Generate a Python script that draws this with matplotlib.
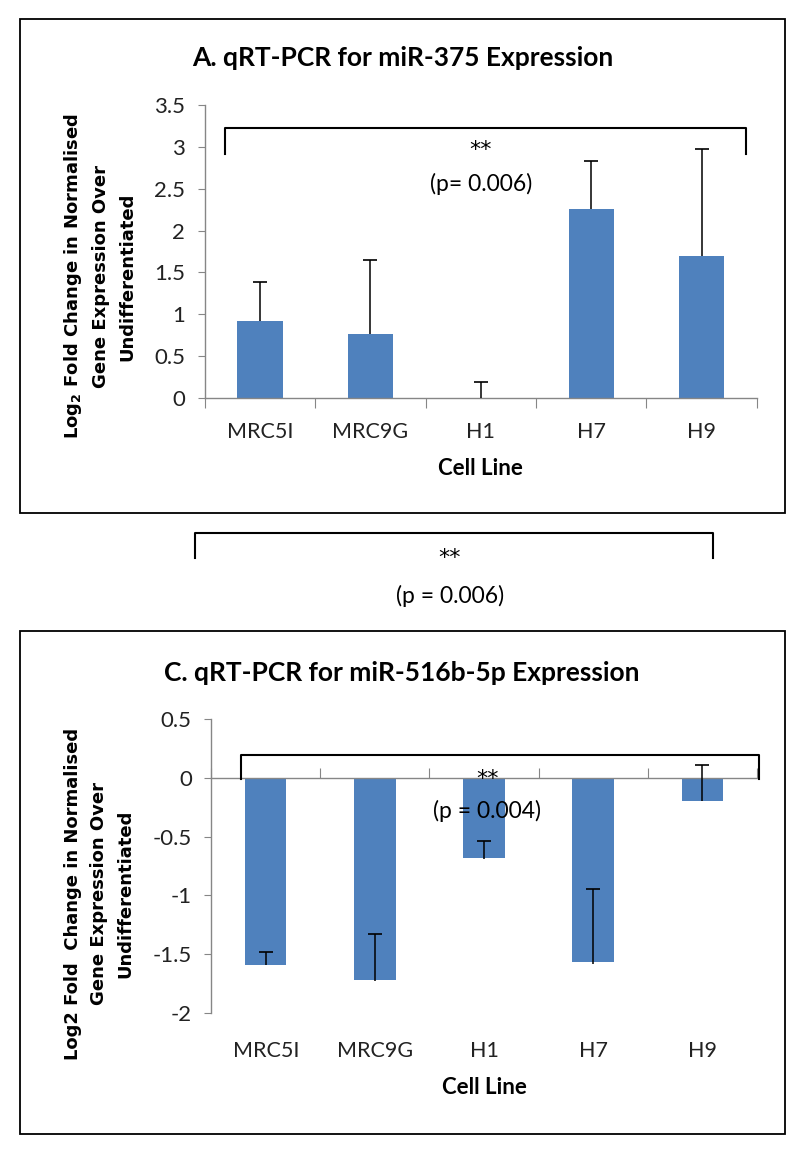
import numpy as np
import matplotlib.pyplot as plt
import matplotlib.transforms as mtransforms
from matplotlib.patches import Rectangle
from matplotlib.lines import Line2D

# Data
cell_lines = ['MRC5I', 'MRC9G', 'H1', 'H7', 'H9']

mir375_mean = [0.92, 0.77, 0.0, 2.26, 1.70]
mir375_err_minus = [0.0, 0.0, 0.0, 0.0, 0.0]
mir375_err_plus = [0.47, 0.88, 0.19, 0.57, 1.27]

mir516_mean = [-1.59, -1.72, -0.68, -1.57, -0.20]
mir516_err_minus = [0.0, 0.01, 0.01, 0.01, 0.0]
mir516_err_plus = [0.11, 0.39, 0.14, 0.62, 0.31]

top_ticks = [0, 0.5, 1, 1.5, 2, 2.5, 3, 3.5]
top_ticklabels = ['0', '0.5', '1', '1.5', '2', '2.5', '3', '3.5']
bot_ticks = [-2, -1.5, -1, -0.5, 0, 0.5]
bot_ticklabels = ['-2', '-1.5', '-1', '-0.5', '0', '0.5']

BAR = '#4F81BD'
AXC = '#868686'
FONT = 'Lato'

fig = plt.figure(figsize=(8, 11.52), dpi=100)

# panel frames
fig.add_artist(Rectangle((0.0244, 0.5547), 0.9566, 0.4288, transform=fig.transFigure,
                         fill=False, edgecolor='black', linewidth=1.3))
fig.add_artist(Rectangle((0.0244, 0.0156), 0.9566, 0.4367, transform=fig.transFigure,
                         fill=False, edgecolor='black', linewidth=1.3))


def setup_axes(ax, ticks, ticklabels, ylim):
    x = np.arange(len(cell_lines))
    ax.set_xlim(-0.5, len(cell_lines) - 0.5)
    ax.set_ylim(*ylim)
    for s in ['top', 'right']:
        ax.spines[s].set_visible(False)
    for s in ['left', 'bottom']:
        ax.spines[s].set_color(AXC)
        ax.spines[s].set_linewidth(1.0)
    ax.set_yticks(ticks)
    ax.set_yticklabels(ticklabels, fontsize=16, family=FONT, color='#222222')
    ax.tick_params(axis='y', direction='out', length=5, color=AXC, pad=9)
    ax.set_xticks(np.arange(len(cell_lines) + 1) - 0.5)
    ax.set_xticklabels([])
    return x


def draw_errors(ax, x, mean, minus, plus):
    # whiskers, with a cap only on the upper end
    ax.errorbar(x, mean, yerr=[minus, plus], fmt='none', ecolor='black',
                elinewidth=1.1, capsize=0, zorder=3)
    tops = np.array(mean) + np.array(plus)
    ax.plot(x, tops, ls='none', marker='_', ms=10, mew=1.2, color='black', zorder=3)


# ---------- A. miR-375 ----------
ax1 = fig.add_axes([0.256, 0.6545, 0.690, 0.2544])
x = setup_axes(ax1, top_ticks, top_ticklabels, (0, 3.5))
ax1.tick_params(axis='x', direction='out', length=7, color=AXC)
ax1.bar(x, mir375_mean, width=0.41, color=BAR, zorder=2)
draw_errors(ax1, x, mir375_mean, mir375_err_minus, mir375_err_plus)
ax1.plot([-0.32, -0.32, 4.40, 4.40], [2.92, 3.23, 3.23, 2.92], color='black', lw=1.5,
         clip_on=False, solid_joinstyle='round')
ax1.text(2.0, 2.96, '**', ha='center', va='center', fontsize=16, family='DejaVu Sans')
ax1.text(2.0, 2.56, '(p= 0.006)', ha='center', va='center', fontsize=16.5, family=FONT)
tr1 = mtransforms.blended_transform_factory(ax1.transData, fig.transFigure)
for xi, lab in zip(x, cell_lines):
    ax1.text(xi, 0.625, lab, transform=tr1, ha='center', va='center', fontsize=15.5,
             family=FONT, color='#222222')
ax1.text(2.0, 0.5937, 'Cell Line', transform=tr1, ha='center', va='center',
         fontsize=16, family=FONT, fontweight='bold')
fig.text(0.503, 0.9497, 'A. qRT-PCR for miR-375 Expression', ha='center', va='center',
         fontsize=19, family=FONT, fontweight='bold')
fig.text(0.124, 0.760, 'Log$_\\mathbf{2}$ Fold Change in Normalised\nGene Expression Over\nUndifferentiated',
         rotation=90, ha='center', va='center', fontsize=13, fontweight='bold',
         family='DejaVu Sans', linespacing=1.55, multialignment='center')

# middle bracket between the panels
fig.add_artist(Line2D([0.244, 0.244, 0.891, 0.891], [0.5156, 0.5373, 0.5373, 0.5156],
                      transform=fig.transFigure, color='black', lw=1.5))
fig.text(0.5625, 0.5155, '**', ha='center', va='center', fontsize=16, family='DejaVu Sans')
fig.text(0.5625, 0.4826, '(p = 0.006)', ha='center', va='center', fontsize=16.5, family=FONT)

# ---------- C. miR-516b-5p ----------
ax2 = fig.add_axes([0.264, 0.1207, 0.682, 0.2552])
x = setup_axes(ax2, bot_ticks, bot_ticklabels, (-2, 0.5))
ax2.spines['bottom'].set_position(('data', 0))
ax2.tick_params(axis='x', direction='in', length=7, color=AXC)
ax2.bar(x, mir516_mean, width=0.38, color=BAR, zorder=2)
draw_errors(ax2, x, mir516_mean, mir516_err_minus, mir516_err_plus)
ax2.plot([-0.225, -0.225, 4.52, 4.52], [-0.01, 0.195, 0.195, -0.01], color='black', lw=1.5,
         clip_on=False, solid_joinstyle='round', zorder=4)
ax2.text(2.03, -0.01, '**', ha='center', va='center', fontsize=16, family='DejaVu Sans', zorder=5)
ax2.text(2.03, -0.28, '(p = 0.004)', ha='center', va='center', fontsize=16.5, family=FONT, zorder=5)
tr2 = mtransforms.blended_transform_factory(ax2.transData, fig.transFigure)
for xi, lab in zip(x, cell_lines):
    ax2.text(xi, 0.0877, lab, transform=tr2, ha='center', va='center', fontsize=15.5,
             family=FONT, color='#222222')
ax2.text(2.0, 0.0556, 'Cell Line', transform=tr2, ha='center', va='center',
         fontsize=16, family=FONT, fontweight='bold')
fig.text(0.502, 0.4158, 'C. qRT-PCR for miR-516b-5p Expression', ha='center', va='center',
         fontsize=19, family=FONT, fontweight='bold')
fig.text(0.124, 0.224, 'Log2 Fold  Change in Normalised\nGene Expression Over\nUndifferentiated',
         rotation=90, ha='center', va='center', fontsize=13, fontweight='bold',
         family='DejaVu Sans', linespacing=1.55, multialignment='center')

fig.savefig('out.png', dpi=100, facecolor='white')
